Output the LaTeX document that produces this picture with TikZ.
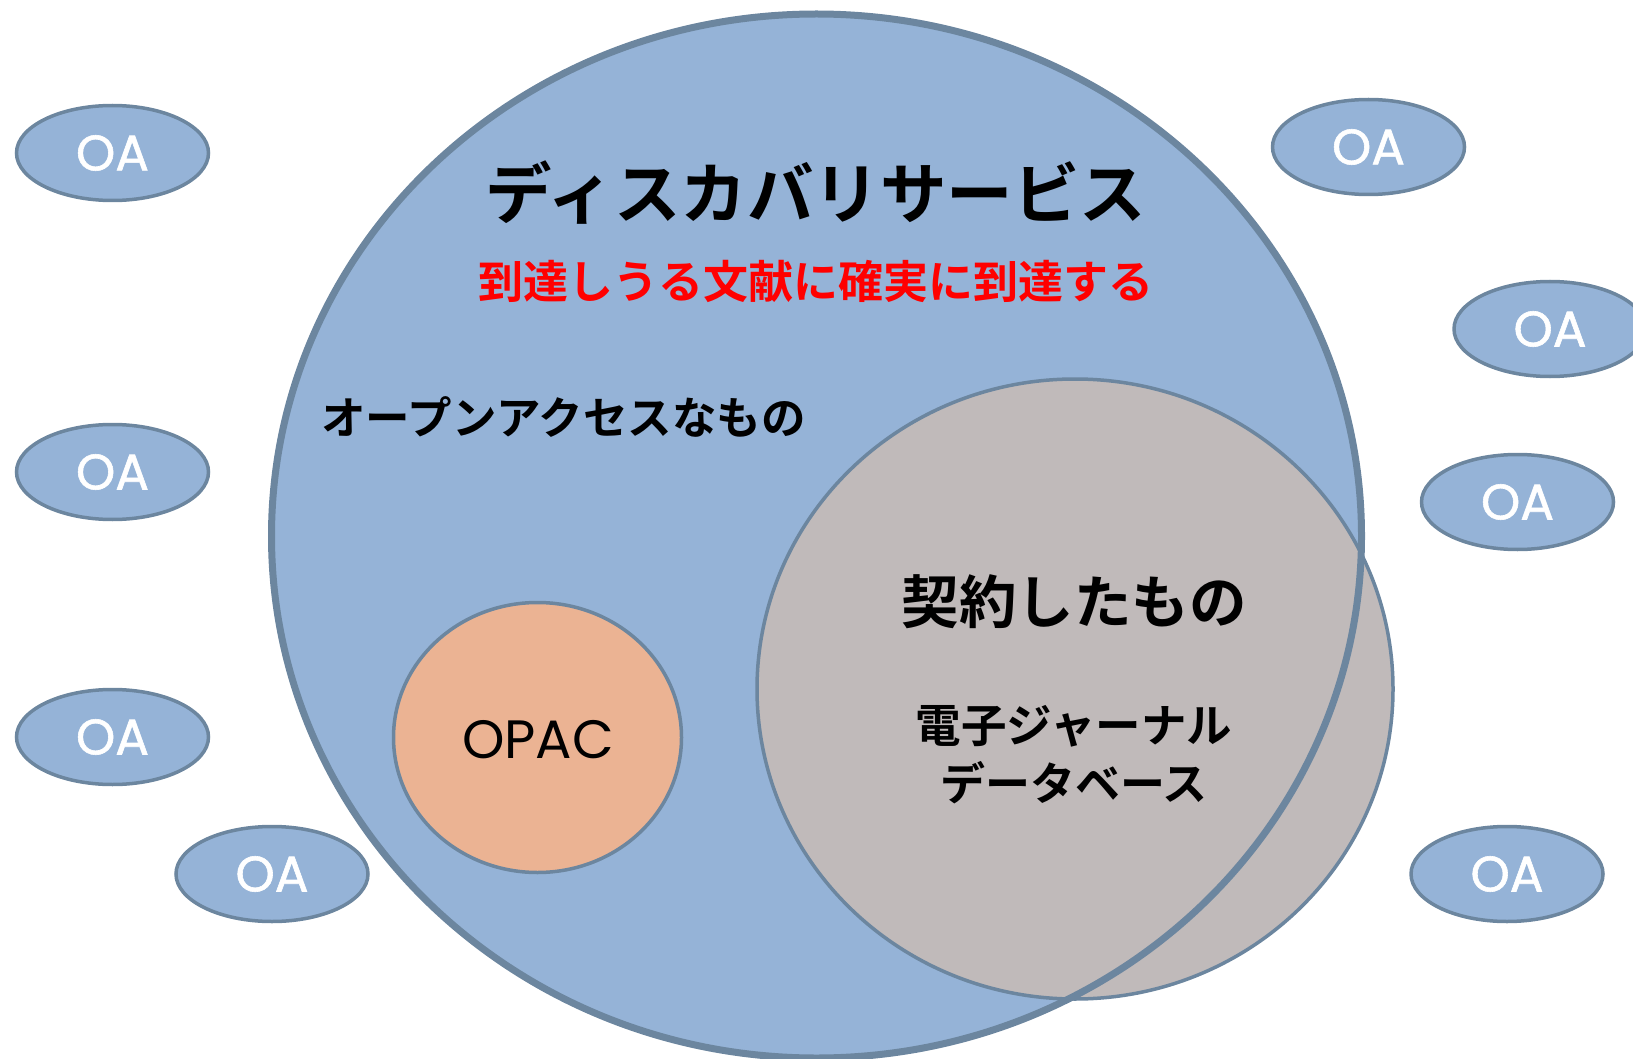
\documentclass[tikz,border=0pt]{standalone}
\usepackage{fontspec}
\usetikzlibrary{shapes.geometric}
\newfontfamily\jp{Noto Sans CJK JP}[BoldFont={Noto Sans CJK JP Bold}]
\newfontfamily\lat{Poppins}
\newfontfamily\latb{Poppins}[FakeBold=1.2]
\definecolor{oablue}{HTML}{95B3D7}
\definecolor{oaline}{HTML}{6C869F}
\definecolor{cgray}{HTML}{C0BABA}
\definecolor{opac}{HTML}{EBB393}
\tikzset{
  oa/.style={ellipse, draw=oaline, fill=oablue, line width=3.5pt, minimum width=192pt, minimum height=95pt, inner sep=0pt, text=white, font=\latb\fontsize{50}{50}\selectfont},
  jtxt/.style={inner sep=0pt, font=\jp\bfseries}
}
\begin{document}
\begin{tikzpicture}[x=1pt,y=-1pt]
\useasboundingbox (0,0) rectangle (1633,1059);
\begin{scope}
\clip (0,0) rectangle (1633,1059);
% big circle fill
\node[ellipse, fill=oablue, minimum width=1090pt, minimum height=1044pt, inner sep=0pt] (big) at (816.5,536) {};
% contract ellipse
\node[ellipse, fill=cgray, draw=oaline, line width=3.5pt, minimum width=636pt, minimum height=620pt, inner sep=0pt] (contract) at (1075,689) {};
% big circle border on top
\node[ellipse, draw=oaline, line width=7pt, minimum width=1090pt, minimum height=1044pt, inner sep=0pt] (bigborder) at (816.5,536) {};
% OPAC
\node[ellipse, fill=opac, draw=oaline, line width=3.5pt, minimum width=288pt, minimum height=270pt, inner sep=0pt] (opacc) at (537.5,737.5) {};
\node[inner sep=0pt, font=\lat\fontsize{54}{54}\selectfont] (opact) at (538,740) {OPAC};
% OA ellipses
\node[oa] (oa1) at (112.5,153) {OA};
\node[oa] (oa2) at (1368.5,147) {OA};
\node[oa] (oa3) at (1550,329) {OA};
\node[oa] (oa4) at (112.5,472) {OA};
\node[oa] (oa5) at (1517.5,502) {OA};
\node[oa] (oa6) at (112.5,737) {OA};
\node[oa] (oa7) at (272,874) {OA};
\node[oa] (oa8) at (1507,874) {OA};
\end{scope}
% texts
\node[jtxt, font=\jp\bfseries\fontsize{66.5}{66.5}\selectfont] (title) at (816,193) {ディスカバリサービス};
\node[jtxt, text=red, font=\jp\bfseries\fontsize{45}{45}\selectfont] (sub) at (816,281) {到達しうる文献に確実に到達する};
\node[jtxt, anchor=west, font=\jp\bfseries\fontsize{44.5}{44.5}\selectfont] (open) at (321,417) {オープンアクセスなもの};
\node[jtxt, font=\jp\bfseries\fontsize{57.5}{57.5}\selectfont] (keiyaku) at (1074,602) {契約したもの};
\node[jtxt, font=\jp\bfseries\fontsize{45.5}{45.5}\selectfont] (ej) at (1074,726) {電子ジャーナル};
\node[jtxt, font=\jp\bfseries\fontsize{45}{45}\selectfont] (db) at (1074,783) {データベース};
\end{tikzpicture}
\end{document}
